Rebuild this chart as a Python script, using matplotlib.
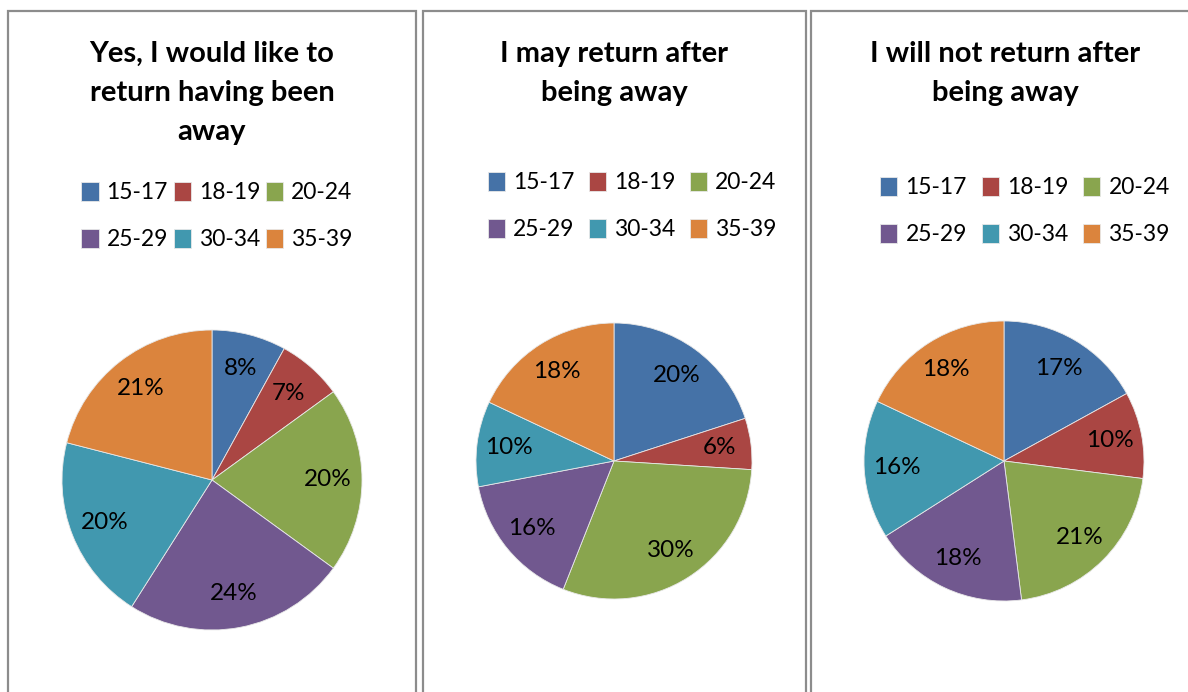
import matplotlib.pyplot as plt
from matplotlib.patches import Rectangle

plt.rcParams['font.family'] = ['Lato', 'DejaVu Sans']

age_groups = ["15-17", "18-19", "20-24", "25-29", "30-34", "35-39"]
colors = ["#4572A7", "#AA4643", "#89A54E", "#71588F", "#4198AF", "#DB843D"]

titles = ["Yes, I would like to\nreturn having been\naway",
          "I may return after\nbeing away",
          "I will not return after\nbeing away"]

would_like = [8, 7, 20, 24, 20, 21]
may_return = [20, 6, 30, 16, 10, 18]
will_not = [17, 10, 21, 18, 16, 18]
series = [would_like, may_return, will_not]

W, H = 1188, 692
fig = plt.figure(figsize=(W / 100, H / 100), dpi=100)

# panel frames (left, right) in pixels
frames = [(8, 416), (423, 806), (811, 1192)]
# pie centre and radius in pixels
pies = [(212, 480, 150), (614, 461, 138), (1004, 461, 140)]
title_pos = [(212, 41), (614, 41), (1005, 41)]
legend_pos = [(217, 216), (632, 206), (1025, 211)]
col_space = [0.25, 0.62, 0.65]

# legend fills columns first, so reorder to read across rows
order = [0, 3, 1, 4, 2, 5]

for i in range(3):
    x0, x1 = frames[i]
    fig.patches.append(Rectangle((x0 / W, -0.1), (x1 - x0) / W, 1.1 - 11 / H,
                                 transform=fig.transFigure, fill=False,
                                 edgecolor="#8c8c8c", linewidth=1.6))

    cx, cy, r = pies[i]
    ax = fig.add_axes([(cx - r) / W, (H - cy - r) / H, 2 * r / W, 2 * r / H])
    wedges, texts, autotexts = ax.pie(
        series[i], colors=colors, startangle=90, counterclock=False,
        autopct="%d%%", pctdistance=0.77,
        wedgeprops=dict(edgecolor="#e8e8e8", linewidth=0.6),
        textprops=dict(fontsize=17.5, color="black"))
    ax.set_xlim(-1, 1)
    ax.set_ylim(-1, 1)
    ax.set_aspect("auto")
    ax.axis("off")

    tx, ty = title_pos[i]
    fig.text(tx / W, 1 - ty / H, titles[i], ha="center", va="top",
             fontsize=21, fontweight="bold", linespacing=1.63)

    lx, ly = legend_pos[i]
    fig.legend([wedges[k] for k in order], [age_groups[k] for k in order],
               loc="center", bbox_to_anchor=(lx / W, 1 - ly / H), ncol=3,
               frameon=False, fontsize=16.5, handlelength=0.75,
               handleheight=0.9, handletextpad=0.35,
               columnspacing=col_space[i], labelspacing=1.1, borderpad=0)

fig.savefig("out.png", dpi=100)
